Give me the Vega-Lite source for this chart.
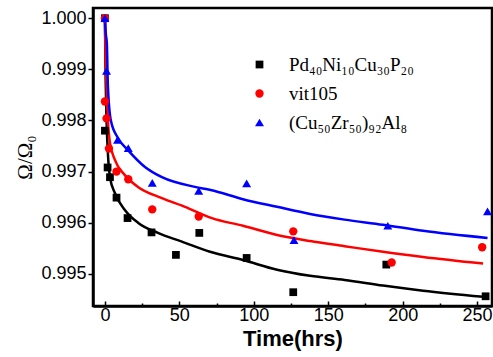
{
  "$schema": "https://vega.github.io/schema/vega-lite/v6.json",
  "width": 399,
  "height": 298,
  "autosize": {"type": "none"},
  "padding": {"left": 93, "top": 8, "right": 1, "bottom": 51},
  "background": "white",
  "config": {
    "view": {"stroke": "black", "strokeWidth": 2.5},
    "font": "Liberation Sans"
  },
  "datasets": {
    "pts": [
      {"series": "Pd", "t": 0, "y": 1.0},
      {"series": "Pd", "t": 0, "y": 0.9978},
      {"series": "Pd", "t": 1.8, "y": 0.99708},
      {"series": "Pd", "t": 3.4, "y": 0.99689},
      {"series": "Pd", "t": 7.8, "y": 0.99649},
      {"series": "Pd", "t": 15.2, "y": 0.99609},
      {"series": "Pd", "t": 31.3, "y": 0.99581},
      {"series": "Pd", "t": 47.7, "y": 0.99537},
      {"series": "Pd", "t": 63.4, "y": 0.9958},
      {"series": "Pd", "t": 95.2, "y": 0.99531},
      {"series": "Pd", "t": 126.5, "y": 0.99464},
      {"series": "Pd", "t": 189, "y": 0.99518},
      {"series": "Pd", "t": 255.7, "y": 0.99456},
      {"series": "vit", "t": 0, "y": 1.0},
      {"series": "vit", "t": 0, "y": 0.99837},
      {"series": "vit", "t": 1.1, "y": 0.99804},
      {"series": "vit", "t": 2.7, "y": 0.99745},
      {"series": "vit", "t": 7.8, "y": 0.997},
      {"series": "vit", "t": 15.7, "y": 0.99685},
      {"series": "vit", "t": 31.8, "y": 0.99626},
      {"series": "vit", "t": 63, "y": 0.99612},
      {"series": "vit", "t": 126.5, "y": 0.99583},
      {"series": "vit", "t": 192.6, "y": 0.99522},
      {"series": "vit", "t": 253.4, "y": 0.99552},
      {"series": "Cu", "t": 0, "y": 1.0},
      {"series": "Cu", "t": 1.1, "y": 0.99897},
      {"series": "Cu", "t": 8.5, "y": 0.99762},
      {"series": "Cu", "t": 15.7, "y": 0.99746},
      {"series": "Cu", "t": 31.8, "y": 0.99678},
      {"series": "Cu", "t": 63, "y": 0.99662},
      {"series": "Cu", "t": 95.2, "y": 0.99677},
      {"series": "Cu", "t": 127, "y": 0.99566},
      {"series": "Cu", "t": 190, "y": 0.99594},
      {"series": "Cu", "t": 257, "y": 0.99622}
    ],
    "fits": [
      {"series": "Pd", "t": 0, "y": 1.0},
      {"series": "Pd", "t": 0.5, "y": 0.9988},
      {"series": "Pd", "t": 1, "y": 0.9981},
      {"series": "Pd", "t": 2, "y": 0.99736},
      {"series": "Pd", "t": 3.4, "y": 0.99689},
      {"series": "Pd", "t": 6.7, "y": 0.99658},
      {"series": "Pd", "t": 13.4, "y": 0.99625},
      {"series": "Pd", "t": 22.2, "y": 0.996},
      {"series": "Pd", "t": 35.6, "y": 0.9958},
      {"series": "Pd", "t": 51.7, "y": 0.99563},
      {"series": "Pd", "t": 70.6, "y": 0.99543},
      {"series": "Pd", "t": 92.7, "y": 0.99527},
      {"series": "Pd", "t": 115.6, "y": 0.99508},
      {"series": "Pd", "t": 137.8, "y": 0.99496},
      {"series": "Pd", "t": 161, "y": 0.99488},
      {"series": "Pd", "t": 186.8, "y": 0.99477},
      {"series": "Pd", "t": 213.7, "y": 0.99467},
      {"series": "Pd", "t": 254, "y": 0.99455},
      {"series": "vit", "t": 0, "y": 1.0},
      {"series": "vit", "t": 0.5, "y": 0.9992},
      {"series": "vit", "t": 1, "y": 0.99875},
      {"series": "vit", "t": 2, "y": 0.99801},
      {"series": "vit", "t": 3.4, "y": 0.99756},
      {"series": "vit", "t": 6.7, "y": 0.99723},
      {"series": "vit", "t": 13.4, "y": 0.99693},
      {"series": "vit", "t": 22.2, "y": 0.9967},
      {"series": "vit", "t": 38.3, "y": 0.99648},
      {"series": "vit", "t": 53.8, "y": 0.99631},
      {"series": "vit", "t": 71.9, "y": 0.99609},
      {"series": "vit", "t": 92.7, "y": 0.99594},
      {"series": "vit", "t": 115.6, "y": 0.99576},
      {"series": "vit", "t": 137.8, "y": 0.99564},
      {"series": "vit", "t": 161, "y": 0.99554},
      {"series": "vit", "t": 186.8, "y": 0.99543},
      {"series": "vit", "t": 213.7, "y": 0.99533},
      {"series": "vit", "t": 254, "y": 0.9952},
      {"series": "Cu", "t": 0, "y": 1.0},
      {"series": "Cu", "t": 0.6, "y": 0.9997},
      {"series": "Cu", "t": 1.3, "y": 0.99951},
      {"series": "Cu", "t": 2, "y": 0.99868},
      {"series": "Cu", "t": 4, "y": 0.998},
      {"series": "Cu", "t": 8.7, "y": 0.99766},
      {"series": "Cu", "t": 15.5, "y": 0.99742},
      {"series": "Cu", "t": 26.9, "y": 0.99709},
      {"series": "Cu", "t": 38.3, "y": 0.99689},
      {"series": "Cu", "t": 60.5, "y": 0.9967},
      {"series": "Cu", "t": 71, "y": 0.99664},
      {"series": "Cu", "t": 92.7, "y": 0.99646},
      {"series": "Cu", "t": 115.6, "y": 0.99631},
      {"series": "Cu", "t": 137.8, "y": 0.99617},
      {"series": "Cu", "t": 161, "y": 0.99606},
      {"series": "Cu", "t": 186.8, "y": 0.99596},
      {"series": "Cu", "t": 213.7, "y": 0.99584},
      {"series": "Cu", "t": 257, "y": 0.9957}
    ]
  },
  "layer": [
    {
      "data": {"name": "fits"},
      "transform": [{"filter": "datum.series == 'Pd'"}],
      "mark": {"type": "line", "strokeWidth": 2.5, "interpolate": "monotone", "clip": true, "color": "#000000"},
      "encoding": {
        "x": {"field": "t", "type": "quantitative", "scale": {"domain": [-8, 260], "nice": false},
          "axis": {"values": [25, 75, 125, 175, 225], "orient": "bottom", "labels": false, "domain": false, "grid": false, "title": null, "tickSize": -3, "tickColor": "black", "tickWidth": 1.5}},
        "y": {"field": "y", "type": "quantitative", "scale": {"domain": [0.99437, 1.0002], "nice": false, "zero": false},
          "axis": {"values": [0.995, 0.996, 0.997, 0.998, 0.999, 1.0], "format": ".3f", "grid": false, "title": "Ω/Ω₀",
            "titleFont": "Liberation Serif", "titleFontSize": 21, "titleFontWeight": "normal", "titleColor": "black", "titlePadding": 5,
            "labelFont": "Liberation Sans", "labelFontSize": 18, "labelColor": "black", "labelPadding": 2,
            "tickSize": 5, "tickColor": "black", "tickWidth": 1.5, "domainColor": "black", "domainWidth": 2.5}}
      }
    },
    {
      "data": {"name": "fits"},
      "transform": [{"filter": "datum.series == 'vit'"}],
      "mark": {"type": "line", "strokeWidth": 2.5, "interpolate": "monotone", "clip": true, "color": "#ff0000"},
      "encoding": {
        "x": {"field": "t", "type": "quantitative", "axis": null},
        "y": {"field": "y", "type": "quantitative"}
      }
    },
    {
      "data": {"name": "fits"},
      "transform": [{"filter": "datum.series == 'Cu'"}],
      "mark": {"type": "line", "strokeWidth": 2.5, "interpolate": "monotone", "clip": true, "color": "#0000ff"},
      "encoding": {
        "x": {"field": "t", "type": "quantitative", "axis": null},
        "y": {"field": "y", "type": "quantitative"}
      }
    },
    {
      "data": {"name": "pts"},
      "mark": {"type": "point", "filled": true, "opacity": 1, "clip": false},
      "encoding": {
        "x": {"field": "t", "type": "quantitative",
          "axis": {"values": [0, 50, 100, 150, 200, 250], "orient": "bottom", "grid": false, "title": "Time(hrs)",
            "titleFont": "Liberation Sans", "titleFontSize": 22, "titleFontWeight": "bold", "titleColor": "black", "titlePadding": 4,
            "labelFont": "Liberation Sans", "labelFontSize": 18, "labelColor": "black", "labelPadding": 5,
            "tickSize": -5, "tickColor": "black", "tickWidth": 1.5, "domainColor": "black", "domainWidth": 2.5}},
        "y": {"field": "y", "type": "quantitative"},
        "color": {"field": "series", "type": "nominal",
          "scale": {"domain": ["Pd", "vit", "Cu"], "range": ["#000000", "#ff0000", "#0000ff"]},
          "legend": {"orient": "none", "legendX": 157, "legendY": 47, "title": null, "padding": 0,
            "labelExpr": "datum.value == 'Pd' ? 'Pd₄₀Ni₁₀Cu₃₀P₂₀' : datum.value == 'vit' ? 'vit105' : '(Cu₅₀Zr₅₀)₉₂Al₈'",
            "labelFont": "Liberation Serif", "labelFontSize": 19, "labelColor": "black", "labelOffset": 20,
            "rowPadding": 9, "symbolStrokeWidth": 0}},
        "shape": {"field": "series", "type": "nominal",
          "scale": {"domain": ["Pd", "vit", "Cu"], "range": ["square", "circle", "triangle-up"]}},
        "size": {"field": "series", "type": "nominal",
          "scale": {"domain": ["Pd", "vit", "Cu"], "range": [60, 80, 110]}}
      }
    }
  ],
  "resolve": {"axis": {"x": "independent"}}
}
